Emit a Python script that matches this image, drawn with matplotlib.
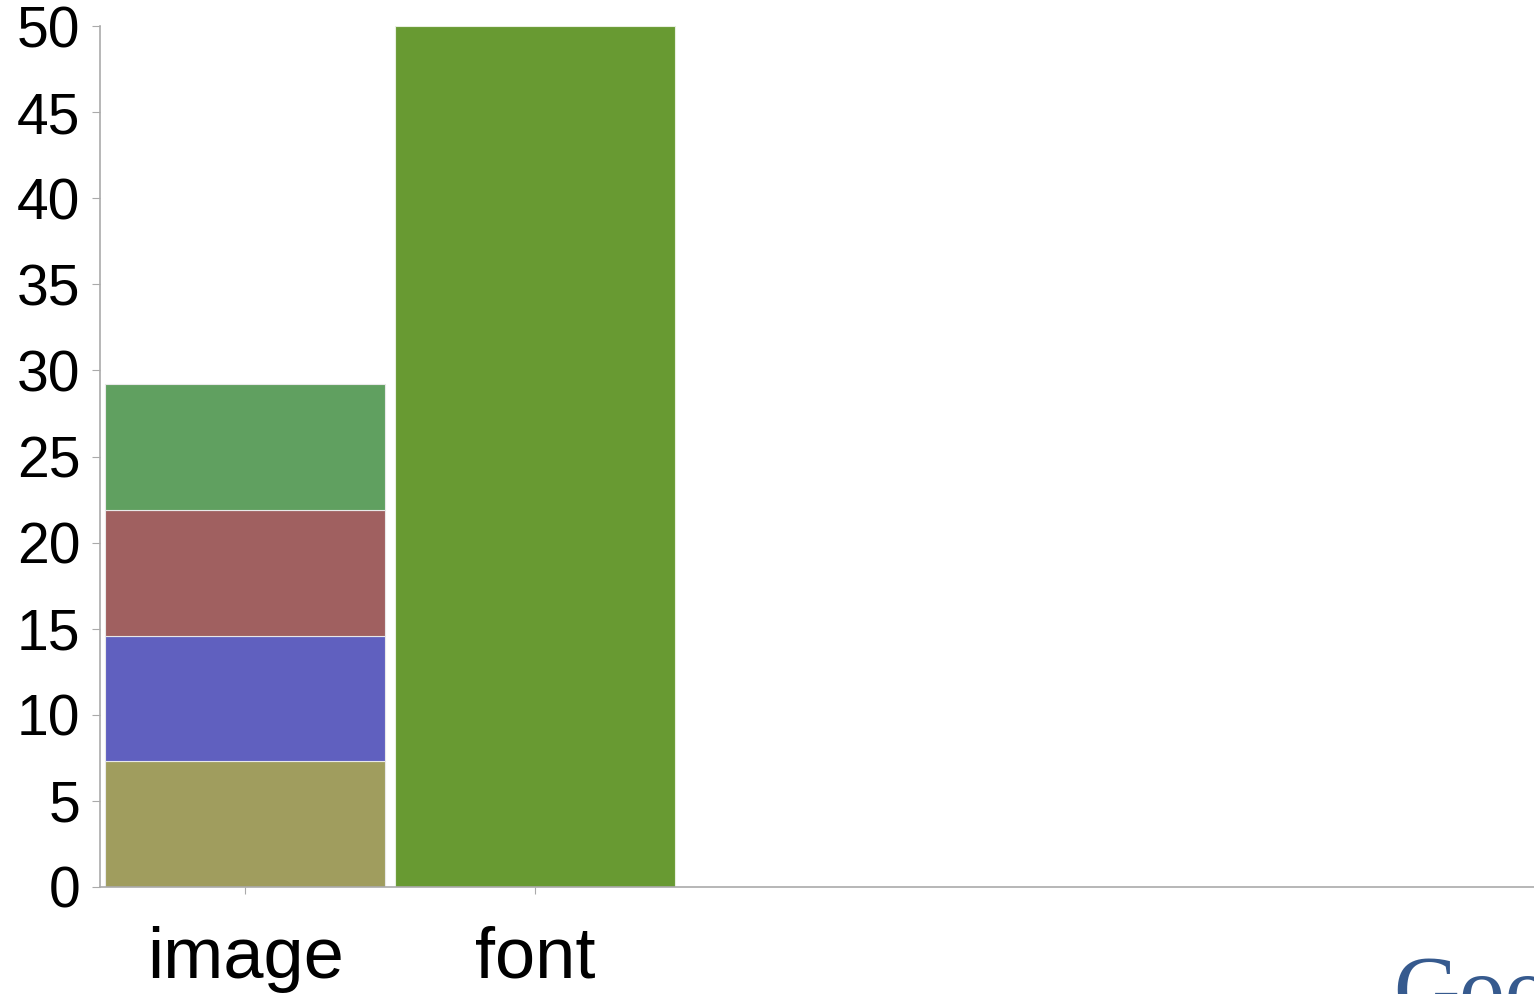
import matplotlib
matplotlib.use("Agg")
import matplotlib.pyplot as plt
import numpy as np

# data
categories = ["image", "font"]
image_parts = [7.3, 7.3, 7.3, 7.3]
image_colors = ["#a09d5e", "#6060bf", "#a06060", "#60a060"]
font_value = 50
font_color = "#689a32"
yticks = list(range(0, 55, 5))

plt.rcParams['font.family'] = ['Liberation Sans', 'DejaVu Sans']

fig = plt.figure(figsize=(15.34, 9.94), dpi=100)
ax = fig.add_axes([100/1534, 107/994, 1 - 100/1534, 861/994])

x = np.arange(len(categories))
w = 0.965

bottom = 0
for val, col in zip(image_parts, image_colors):
    ax.bar(x[0], val, width=w, bottom=bottom, color=col,
           edgecolor="#e8e8e8", linewidth=0.8)
    bottom += val
ax.bar(x[1], font_value, width=w, color=font_color, edgecolor="#e8f0e0", linewidth=0.8)

ax.set_xlim(-0.5, 4.44)
ax.set_ylim(0, 50)
ax.set_yticks(yticks)
ax.set_xticks(x)
ax.set_xticklabels(categories, fontsize=52)
ax.tick_params(axis='y', labelsize=41, length=6, color="#aaaaaa", pad=8)
ax.tick_params(axis='x', length=5, color="#aaaaaa", pad=23)

for s in ["top", "right"]:
    ax.spines[s].set_visible(False)
for s in ["left", "bottom"]:
    ax.spines[s].set_color("#aaaaaa")
    ax.spines[s].set_linewidth(1.2)

fig.text(1393/1534, -25/994, "Google", fontsize=66, color="#365a8e",
         family=['Liberation Serif', 'DejaVu Serif'], va='baseline', ha='left')

fig.savefig("out.png", dpi=100)
